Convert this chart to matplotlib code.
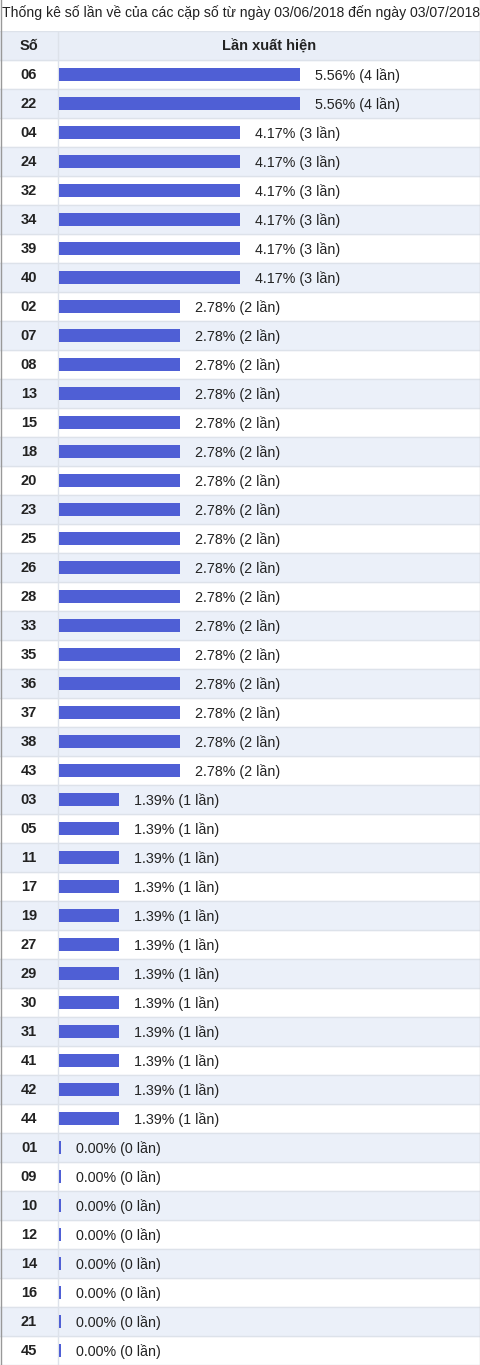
import matplotlib
matplotlib.use("Agg")
import matplotlib.pyplot as plt

plt.rcParams['font.family'] = ['Liberation Sans', 'DejaVu Sans']

title = "Thống kê số lần về của các cặp số từ ngày 03/06/2018 đến ngày 03/07/2018"
header_num = "Số"
header_bar = "Lần xuất hiện"

numbers = ["06", "22", "04", "24", "32", "34", "39", "40",
           "02", "07", "08", "13", "15", "18", "20", "23", "25", "26", "28",
           "33", "35", "36", "37", "38", "43",
           "03", "05", "11", "17", "19", "27", "29", "30", "31", "41", "42", "44",
           "01", "09", "10", "12", "14", "16", "21", "45"]
counts = [4, 4, 3, 3, 3, 3, 3, 3,
          2, 2, 2, 2, 2, 2, 2, 2, 2, 2, 2, 2, 2, 2, 2, 2, 2,
          1, 1, 1, 1, 1, 1, 1, 1, 1, 1, 1, 1,
          0, 0, 0, 0, 0, 0, 0, 0]
percents = [5.56, 5.56, 4.17, 4.17, 4.17, 4.17, 4.17, 4.17,
            2.78, 2.78, 2.78, 2.78, 2.78, 2.78, 2.78, 2.78, 2.78, 2.78, 2.78,
            2.78, 2.78, 2.78, 2.78, 2.78, 2.78,
            1.39, 1.39, 1.39, 1.39, 1.39, 1.39, 1.39, 1.39, 1.39, 1.39, 1.39, 1.39,
            0.00, 0.00, 0.00, 0.00, 0.00, 0.00, 0.00, 0.00]

W, H = 480, 1365
fig = plt.figure(figsize=(W / 100, H / 100), dpi=100)
fig.patch.set_facecolor("white")

top_px = 31
ax = fig.add_axes([0, 0, 1, (H - top_px) / H])
n = len(numbers)
px_per_unit = 60.3
x0_px = 59.0
ax.set_xlim(-x0_px / px_per_unit, (W - x0_px) / px_per_unit)
ax.set_ylim(n - 0.5, -1.5)
ax.axis("off")

bar_color = "#4f5fd5"
alt_bg = "#ebf0f9"
line_col = "#dde2ea"

# header background
ax.axhspan(-1.5, -0.5, color="#e9eef7", zorder=0)
for i in range(n):
    if i % 2 == 1:
        ax.axhspan(i - 0.5, i + 0.5, color=alt_bg, zorder=0)
for i in range(-1, n):
    ax.axhline(i + 0.5, color=line_col, lw=1, zorder=1)
ax.axhline(-1.5, color=line_col, lw=1, zorder=1)

divider_x = -1 / px_per_unit
ax.axvline(divider_x, color=line_col, lw=1, zorder=1)

min_w = 2 / px_per_unit
widths = [max(c, min_w) for c in counts]
ax.barh(range(n), widths, height=0.44, left=0, color=bar_color, zorder=2)

for i, (num, c, p) in enumerate(zip(numbers, counts, percents)):
    ax.text(-30 / px_per_unit, i + 0.03, num, ha="center", va="center",
            fontsize=10.5, fontweight="bold", color="#222222", zorder=3)
    ax.text(max(c, min_w) + 15 / px_per_unit, i + 0.03, f"{p:.2f}% ({c} lần)",
            ha="left", va="center", fontsize=10.3, color="#222222", zorder=3)

ax.text(-30 / px_per_unit, -0.97, header_num, ha="center", va="center",
        fontsize=10.5, fontweight="bold", color="#222222")
ax.text((W + 58 - 2 * x0_px) / 2 / px_per_unit, -0.97, header_bar, ha="center", va="center",
        fontsize=10.5, fontweight="bold", color="#222222")

fig.text(2 / W, 1 - 13 / H, title, ha="left", va="center", fontsize=10.05, color="#222222")

# outer borders
fig.add_artist(plt.Line2D([0.5 / W, 0.5 / W], [0, 1], color="#999999", lw=1))
fig.add_artist(plt.Line2D([1 - 0.5 / W, 1 - 0.5 / W], [0, 1], color="#cccccc", lw=1))

fig.savefig("out.png", dpi=100, facecolor="white")
